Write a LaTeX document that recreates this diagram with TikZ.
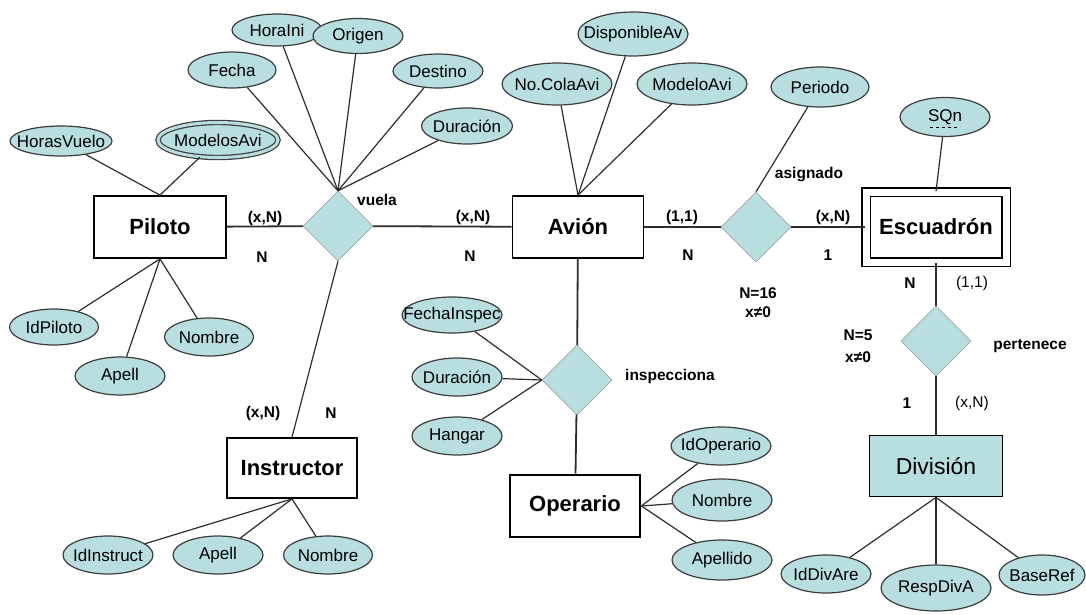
\documentclass[tikz,border=0pt]{standalone}
\usepackage{fontspec}
\setmainfont{Liberation Sans}
\usepackage{xcolor}
\usetikzlibrary{shapes.geometric}

\definecolor{attrfill}{RGB}{184,222,224}
\definecolor{attrdraw}{RGB}{60,60,60}
\definecolor{linegray}{RGB}{45,45,45}

\begin{document}
\begin{tikzpicture}[x=1pt, y=-1pt,
    entity/.style={rectangle, draw=black, line width=1.8pt, minimum width=131pt, minimum height=62pt, font=\fontsize{22}{24}\selectfont\bfseries},
    attr/.style={ellipse, draw=attrdraw, fill=attrfill, line width=1.2pt, inner sep=0pt, minimum width=90pt, minimum height=36pt, label={[attrtext]center:#1}},
    attrtext/.style={font=\fontsize{17}{19}\selectfont},
    rel/.style={diamond, draw=gray, fill=attrfill, inner sep=0pt, minimum width=70pt, minimum height=70pt},
    card/.style={font=\fontsize{15.5}{17}\selectfont\bfseries},
    cardreg/.style={font=\fontsize{15.5}{17}\selectfont},
    attline/.style={draw=linegray, line width=1.2pt},
    relline/.style={draw=linegray, line width=1.8pt}]
    \useasboundingbox (0,0) rectangle (1086,614);

    % Entities
    \node[entity, minimum width=132pt] (piloto) at (160,227) {Piloto};
    \node[entity] (avion) at (578,227) {Avión};
    \node[entity, minimum width=130pt, minimum height=60pt] (instructor) at (292,468) {Instructor};
    \node[entity, line width=2.8pt, minimum width=130pt] (operario) at (575,506) {Operario};
    \node[entity, double, double distance=7pt, line width=1.6pt, minimum width=140pt, minimum height=70pt] (escuadron) at (936,227) {Escuadrón};
    \node[entity, fill=attrfill, font=\fontsize{23}{25}\selectfont, minimum width=133pt, minimum height=61pt] (division) at (936,466) {División};

    % Relationships
    \node[rel] (vuela) at (338,226) {};
    \node[rel] (asignado) at (756,227) {};
    \node[rel] (inspecciona) at (577,380) {};
    \node[rel] (pertenece) at (936,341) {};

    \node[card] (vuelalbl) at (377,200) {vuela};
    \node[card] (asignadolbl) at (809,175) {asignado};
    \node[card] (inspeccionalbl) at (670,376) {inspecciona};
    \node[card] (pertenecelbl) at (1030,346) {pertenece};

    % Attributes
    \node[attr=HorasVuelo, minimum width=102pt, minimum height=30pt] (horasvuelo) at (61,141) {};
    \node[attr=ModelosAvi, double=attrfill, double distance=3pt, minimum width=120pt, minimum height=35pt] (modelosavi) at (218,140) {};
    \node[attr=IdPiloto, minimum width=89pt] (idpiloto) at (54,327) {};
    \node[attr=Apell, minimum height=38pt] (apellpil) at (120,376) {};
    \node[attr=Nombre, minimum width=89pt, minimum height=38pt] (nombrepil) at (209,337) {};

    \node[attr=Fecha, minimum width=88pt] (fecha) at (232,70) {};
    \node[attr=HoraIni, minimum height=32pt] (horaini) at (277,30) {};
    \node[attr=Origen, minimum height=35pt] (origen) at (358,36) {};
    \node[attr=Destino, minimum height=34pt] (destino) at (438,71) {};
    \node[attr=Duración, minimum width=91pt] (duracionvue) at (467,126) {};

    \node[attr=IdInstruct, minimum height=38pt] (idinstruct) at (108,555) {};
    \node[attr=Apell, minimum height=38pt] (apellins) at (218,555) {};
    \node[attr=Nombre, minimum width=89pt, minimum height=38pt] (nombreins) at (328,555) {};

    \node[attr=No.ColaAvi, minimum width=110pt, minimum height=42pt] (nocolaavi) at (557,84) {};
    \node[attr=DisponibleAv, minimum width=110pt, minimum height=44pt] (disponibleav) at (633,34) {};
    \node[attr=ModeloAvi, minimum width=110pt, minimum height=42pt] (modeloavi) at (692,84) {};
    \node[attr=Periodo, minimum width=98pt, minimum height=40pt] (periodo) at (820,87) {};
    \node[attr=SQn, minimum height=39pt] (sqn) at (945,117) {};
    \draw[dashed, line width=0.8pt] ([shift={(-15,10)}]sqn.center) -- ([shift={(15,10)}]sqn.center);

    \node[attr=FechaInspec, minimum width=100pt] (fechainspec) at (452,315) {};
    \node[attr=Duración, minimum height=38pt] (duracionins) at (457,377) {};
    \node[attr=Hangar, minimum height=38pt] (hangar) at (457,436) {};

    \node[attr=IdOperario, minimum width=100pt, minimum height=38pt] (idoperario) at (721,446) {};
    \node[attr=Nombre, minimum width=100pt, minimum height=42pt] (nombreope) at (722,500) {};
    \node[attr=Apellido, minimum width=100pt, minimum height=40pt] (apellido) at (722,560) {};

    \node[attr=IdDivAre, minimum height=38pt] (iddivare) at (826,574) {};
    \node[attr=RespDivA, minimum width=110pt, minimum height=46pt] (respdiva) at (936,588) {};
    \node[attr=BaseRef, minimum width=86pt, minimum height=40pt] (baseref) at (1042,575) {};

    % Cardinalities
    \node[card] (pilxn) at (265,218) {(x,N)};
    \node[card] (piln) at (262,257) {N};
    \node[card] (avxn) at (473,217) {(x,N)};
    \node[card] (avn) at (470,256) {N};
    \node[card] (asig11) at (682,217) {(1,1)};
    \node[card] (asign) at (688,255) {N};
    \node[card] (escxn) at (833,217) {(x,N)};
    \node[card] (esc1) at (828,255) {1};
    \node[card] (asigmax) at (758,293) {N=16};
    \node[card] (asigmin) at (758,312) {x≠0};
    \node[card] (insxn) at (263,413) {(x,N)};
    \node[card] (insn) at (331,413) {N};
    \node[card] (pertn) at (910,283) {N};
    \node[cardreg] (pert11) at (972,283) {(1,1)};
    \node[card] (pertmax) at (858,335) {N=5};
    \node[card] (pertmin) at (858,357) {x≠0};
    \node[card] (div1) at (907,403) {1};
    \node[cardreg] (divxn) at (972,403) {(x,N)};

    % Relationship lines
    \draw[relline] (piloto) -- (vuela);
    \draw[relline] (vuela) -- (avion);
    \draw[attline] (vuela.south) -- (instructor.north);
    \draw[relline] (avion) -- (asignado);
    \draw[relline] (asignado) -- (escuadron);
    \draw[relline] (avion) -- (inspecciona);
    \draw[relline] (inspecciona) -- (operario);
    \draw[relline, line width=2.5pt] (escuadron) -- (pertenece);
    \draw[relline, line width=2.5pt] (pertenece) -- (division);

    % Attribute lines
    \draw[attline] (piloto.north) -- (horasvuelo);
    \draw[attline] (piloto.north) -- (modelosavi);
    \draw[attline] (piloto.south) -- (idpiloto);
    \draw[attline] (piloto.south) -- (apellpil);
    \draw[attline] (piloto.south) -- (nombrepil);

    \draw[attline] (vuela.north) -- (fecha);
    \draw[attline] (vuela.north) -- (horaini);
    \draw[attline] (vuela.north) -- (origen);
    \draw[attline] (vuela.north) -- (destino);
    \draw[attline] (vuela.north) -- (duracionvue);

    \draw[attline] (instructor.south) -- (idinstruct);
    \draw[attline] (instructor.south) -- (apellins);
    \draw[attline] (instructor.south) -- (nombreins);

    \draw[attline] (avion.north) -- (nocolaavi);
    \draw[attline] (avion.north) -- (disponibleav);
    \draw[attline] (avion.north) -- (modeloavi);
    \draw[attline] (asignado.north) -- (periodo);
    \draw[attline] (escuadron.north) -- (sqn);

    \draw[attline] (inspecciona.west) -- (fechainspec);
    \draw[attline] (inspecciona.west) -- (duracionins);
    \draw[attline] (inspecciona.west) -- (hangar);

    \draw[attline] (operario.east) -- (idoperario);
    \draw[attline] (operario.east) -- (nombreope);
    \draw[attline] (operario.east) -- (apellido);

    \draw[attline] (division.south) -- (iddivare);
    \draw[attline, line width=2.5pt] (division.south) -- (respdiva);
    \draw[attline] (division.south) -- (baseref);
\end{tikzpicture}
\end{document}
